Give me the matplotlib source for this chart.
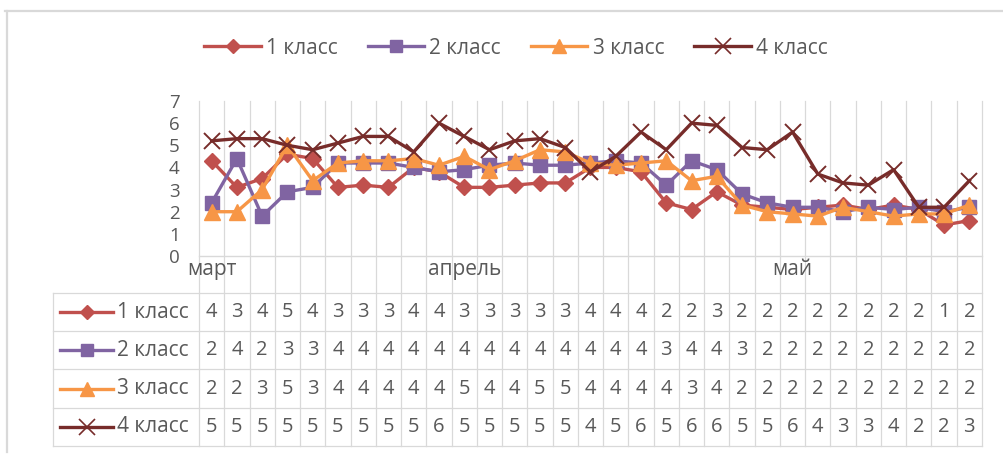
import numpy as np
import matplotlib
matplotlib.use("Agg")
import matplotlib.pyplot as plt
from matplotlib.lines import Line2D
from matplotlib.transforms import blended_transform_factory

# ---------------- data ----------------
categories = ['март'] + [''] * 9 + ['апрель'] + [''] * 12 + ['май'] + [''] * 7
series_names = ['1 класс', '2 класс', '3 класс', '4 класс']
class1 = [4.3, 3.1, 3.5, 4.6, 4.4, 3.1, 3.2, 3.1, 4.0, 3.8, 3.1, 3.1, 3.2, 3.3, 3.3, 4.0,
          4.0, 3.8, 2.4, 2.1, 2.9, 2.3, 2.2, 2.1, 2.2, 2.3, 2.1, 2.3, 2.1, 1.4, 1.6]
class2 = [2.4, 4.4, 1.8, 2.9, 3.1, 4.2, 4.2, 4.2, 4.0, 3.8, 3.9, 4.1, 4.2, 4.1, 4.1, 4.2,
          4.3, 4.2, 3.2, 4.3, 3.9, 2.8, 2.4, 2.2, 2.2, 2.0, 2.2, 2.1, 2.2, 2.0, 2.2]
class3 = [2.0, 2.0, 3.0, 5.0, 3.4, 4.2, 4.3, 4.3, 4.4, 4.1, 4.5, 3.9, 4.3, 4.8, 4.7, 4.2,
          4.1, 4.2, 4.3, 3.4, 3.6, 2.3, 2.0, 1.9, 1.8, 2.2, 2.0, 1.8, 1.9, 1.9, 2.3]
class4 = [5.2, 5.3, 5.3, 5.0, 4.8, 5.1, 5.4, 5.4, 4.7, 6.0, 5.4, 4.8, 5.2, 5.3, 4.9, 3.8,
          4.5, 5.6, 4.8, 6.0, 5.9, 4.9, 4.8, 5.6, 3.7, 3.3, 3.2, 3.9, 2.2, 2.2, 3.4]
yticks = [0, 1, 2, 3, 4, 5, 6, 7]

# ---------------- style ----------------
colors = ['#C0504D', '#8064A2', '#F79646', '#772C2A']
markers = ['D', 's', '^', 'x']
msizes = [8.5, 10.5, 11.5, 11]
grid_c = '#D9D9D9'
text_c = '#595959'
FONT = ['Open Sans', 'DejaVu Sans']
plt.rcParams['font.family'] = FONT

W, H = 1004, 455
fig = plt.figure(figsize=(W / 100, H / 100), dpi=100)

def fx(px):
    return px / W

def fy(py):
    return 1 - py / H

x_left, x_right = 199, 982
y_top, y_bot = 101, 256
ax = fig.add_axes([fx(x_left), fy(y_bot), fx(x_right) - fx(x_left), (y_bot - y_top) / H])

n = len(categories)
x = np.arange(n)
data = [class1, class2, class3, class4]

ax.set_xlim(-0.5, n - 0.5)
ax.set_ylim(0, 7)
for s in ['top', 'right', 'left']:
    ax.spines[s].set_visible(False)
ax.spines['bottom'].set_color(grid_c)
ax.spines['bottom'].set_linewidth(1.0)
ax.set_yticks(yticks)
ax.set_yticklabels([str(v) for v in yticks], fontsize=13.5, color=text_c)
ax.tick_params(axis='y', length=0, pad=14)
ax.set_xticks(x)
ax.set_xticklabels(categories, fontsize=15, color=text_c)
ax.tick_params(axis='x', length=0, pad=2)

# vertical gridlines extending through the data table
table_rows = [293, 331, 369, 408, 446]
ymin_ax = -(table_rows[-1] - y_bot) / (y_bot - y_top)
for b in np.arange(-0.5, n, 1.0):
    ax.axvline(b, ymin=ymin_ax, ymax=1, color=grid_c, lw=0.9, clip_on=False, zorder=0)

# series
for i, (vals, c, m, ms) in enumerate(zip(data, colors, markers, msizes)):
    if m == 'x':
        ax.plot(x, vals, color=c, lw=2.4, marker=m, ms=ms, mew=1.4, mec=c,
                clip_on=False, zorder=3 + i, label=series_names[i])
    else:
        ax.plot(x, vals, color=c, lw=2.4, marker=m, ms=ms, mec=c, mfc=c,
                clip_on=False, zorder=3 + i, label=series_names[i])

# ---------------- data table ----------------
tx = blended_transform_factory(ax.transData, fig.transFigure)
for ry in table_rows:
    fig.add_artist(Line2D([fx(53), fx(x_right)], [fy(ry), fy(ry)], color=grid_c, lw=0.9))
fig.add_artist(Line2D([fx(53), fx(53)], [fy(table_rows[0]), fy(table_rows[-1])], color=grid_c, lw=0.9))

for r, (vals, c, m, ms, name) in enumerate(zip(data, colors, markers, msizes, series_names)):
    yc = (table_rows[r] + table_rows[r + 1]) / 2
    # legend key
    fig.add_artist(Line2D([fx(60), fx(113)], [fy(yc), fy(yc)], color=c, lw=2.4))
    if m == 'x':
        fig.add_artist(Line2D([fx(86.5)], [fy(yc)], color=c, marker=m, ms=ms, mew=1.2, mec=c))
    else:
        fig.add_artist(Line2D([fx(86.5)], [fy(yc)], color=c, marker=m, ms=ms * 0.85, mec=c, mfc=c))
    fig.text(fx(117), fy(yc), name, fontsize=15, color=text_c, ha='left', va='center')
    for i, v in enumerate(vals):
        shown = int(np.floor(v + 0.5))
        ax.text(i, fy(yc), str(shown), transform=tx, fontsize=14.5, color=text_c,
                ha='center', va='center', clip_on=False)

# ---------------- top legend ----------------
handles = []
for c, m, ms, name in zip(colors, markers, msizes, series_names):
    if m == 'x':
        h = Line2D([], [], color=c, lw=2.4, marker=m, ms=ms, mew=1.2, mec=c)
    else:
        h = Line2D([], [], color=c, lw=2.4, marker=m, ms=ms * 0.85, mec=c, mfc=c)
    handles.append(h)
leg = fig.legend(handles, series_names, loc='center', bbox_to_anchor=(fx(516), fy(48)),
                 ncol=4, frameon=False, fontsize=15, handlelength=2.7,
                 handletextpad=0.25, columnspacing=1.45, labelcolor=text_c)

# chart border
fig.add_artist(Line2D([fx(5), 1.0], [fy(11), fy(11)], color=grid_c, lw=1.6))
fig.add_artist(Line2D([fx(7), fx(7)], [fy(11), fy(452)], color=grid_c, lw=1.6))

fig.savefig('out.png', dpi=100)
